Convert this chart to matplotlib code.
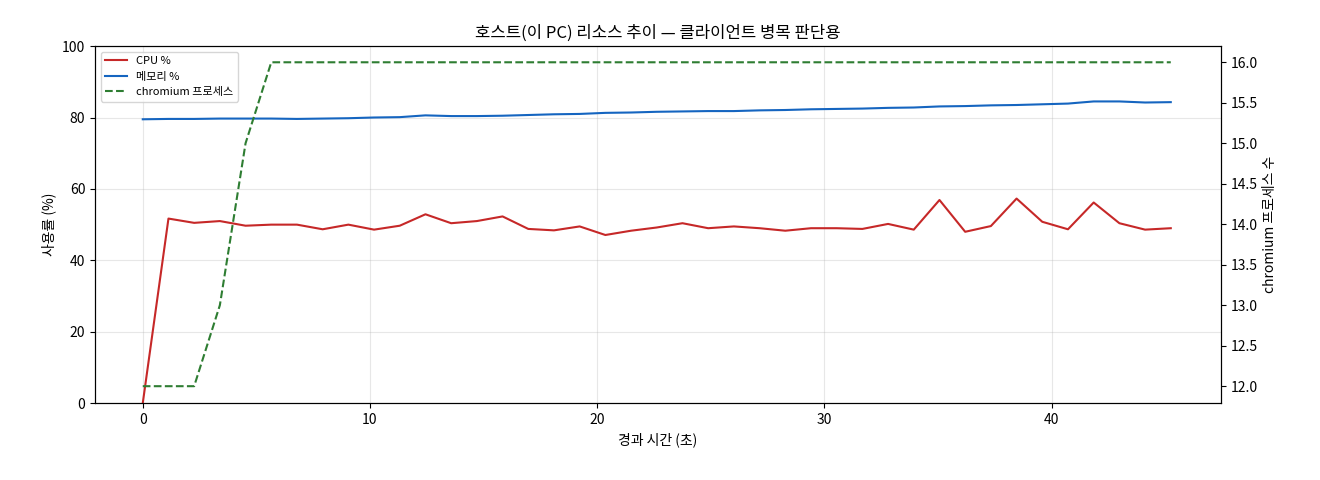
import matplotlib
matplotlib.use("Agg")
import matplotlib.pyplot as plt
import numpy as np

plt.rcParams['font.family'] = ['Noto Sans CJK KR', 'DejaVu Sans']

n = 41
t = [round(i * 1.131, 3) for i in range(n)]
cpu = [0, 51.7, 50.5, 51, 49.7, 50, 50, 48.7, 50, 48.6, 49.7, 52.9, 50.4, 51, 52.3, 48.8,
       48.4, 49.5, 47.1, 48.3, 49.2, 50.4, 49, 49.5, 49, 48.3, 49, 49, 48.8, 50.2, 48.6,
       56.9, 48, 49.6, 57.3, 50.8, 48.7, 56.2, 50.4, 48.6, 49]
mem = [79.5, 79.6, 79.6, 79.7, 79.7, 79.7, 79.6, 79.7, 79.8, 80.0, 80.1, 80.6, 80.4, 80.4,
       80.5, 80.7, 80.9, 81.0, 81.3, 81.4, 81.6, 81.7, 81.8, 81.8, 82.0, 82.1, 82.3, 82.4,
       82.5, 82.7, 82.8, 83.1, 83.2, 83.4, 83.5, 83.7, 83.9, 84.5, 84.5, 84.2, 84.3]
chrom = [12, 12, 12, 13, 15, 16] + [16] * 35

fig, ax = plt.subplots(figsize=(13.2, 4.8), dpi=100)
l1, = ax.plot(t, cpu, color='#c62828', lw=1.5, label='CPU %')
l2, = ax.plot(t, mem, color='#1565c0', lw=1.5, label='메모리 %')
ax.set_ylim(0, 100)
ax.set_xlim(-2.1, 47.45)
ax.set_xlabel('경과 시간 (초)')
ax.set_ylabel('사용률 (%)')
ax.grid(True, alpha=0.3)
ax2 = ax.twinx()
l3, = ax2.plot(t, chrom, color='#2e7d32', lw=1.5, ls='--', label='chromium 프로세스')
ax2.set_ylim(11.79, 16.2)
ax2.set_ylabel('chromium 프로세스 수')
ax.legend(handles=[l1, l2, l3], loc='upper left', fontsize=8)
ax.set_title('호스트(이 PC) 리소스 추이 — 클라이언트 병목 판단용')
fig.subplots_adjust(left=0.072, right=0.925, top=0.904, bottom=0.16)
fig.savefig('out.png')
